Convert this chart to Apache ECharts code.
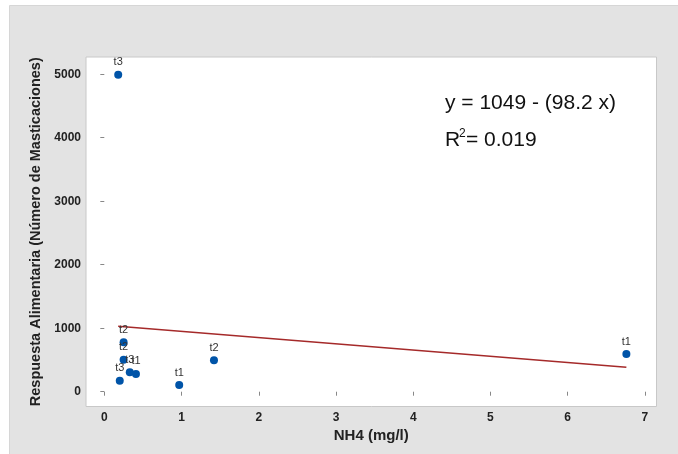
<!DOCTYPE html>
<html><head><meta charset="utf-8">
<script src="https://cdn.jsdelivr.net/npm/echarts@6/dist/echarts.min.js"></script>
<style>html,body{margin:0;padding:0;background:#fff}#c{width:678px;height:454px}</style>
</head><body><div id="c"></div>
<script>
const nh4 = [0.18, 0.25, 0.25, 0.33, 0.41, 0.20, 0.97, 1.42, 6.76];
const resp = [4990, 780, 505, 305, 280, 173, 105, 494, 594];
const tags = ['t3', 't2', 't2', 't3', 't1', 't3', 't1', 't2', 't1'];
const fitX = [0.18, 6.76];
const fitY = [1031, 385];
const xTicks = [0, 1, 2, 3, 4, 5, 6, 7];
const yTicks = [0, 1000, 2000, 3000, 4000, 5000];
const eqText = 'y = 1049 - (98.2 x)';
const r2Text = '= 0.019';

const chart = echarts.init(document.getElementById('c'), null, {renderer: 'canvas'});
const FF = '"Liberation Sans", Arial, sans-serif';
const tickFont = {fontFamily: 'Liberation Sans, Arial, sans-serif', fontSize: 12, fontWeight: 'bold', color: '#222'};
chart.setOption({
  animation: false,
  backgroundColor: '#ffffff',
  graphic: [
    {type: 'rect', left: 9, top: 5, z: -10, shape: {width: 669, height: 449}, style: {fill: '#e3e3e3', stroke: '#d6d6d6', lineWidth: 1}},
    {type: 'text', left: 445, top: 93, z: 10, style: {text: eqText, font: '21px ' + FF, fill: '#111'}},
    {type: 'text', left: 445, top: 130, z: 10, style: {text: 'R', font: '21px ' + FF, fill: '#111'}},
    {type: 'text', left: 459, top: 128, z: 10, style: {text: '2', font: '12px ' + FF, fill: '#111'}},
    {type: 'text', left: 466, top: 130, z: 10, style: {text: r2Text, font: '21px ' + FF, fill: '#111'}}
  ],
  grid: {left: 86, right: 21.5, top: 57, bottom: 47.5, show: true, backgroundColor: '#fff', borderColor: '#c8c8c8', borderWidth: 1},
  xAxis: {
    type: 'value', min: -0.237, max: 7.15,
    name: 'NH4 (mg/l)', nameLocation: 'middle', nameGap: 21,
    nameTextStyle: {fontFamily: 'Liberation Sans, Arial, sans-serif', fontSize: 15, fontWeight: 'bold', color: '#222'},
    axisLine: {show: false},
    splitLine: {show: false},
    axisTick: {show: true, length: 4, lineStyle: {color: '#888'}, customValues: xTicks},
    axisLabel: Object.assign({customValues: xTicks, margin: 5, formatter: v => String(v)}, tickFont)
  },
  yAxis: {
    type: 'value', min: -233, max: 5271,
    name: 'Respuesta Alimentaria (Número de Masticaciones)', nameLocation: 'middle', nameGap: 40, nameRotate: 90,
    nameTextStyle: {fontFamily: 'Liberation Sans, Arial, sans-serif', fontSize: 14.5, fontWeight: 'bold', color: '#222'},
    axisLine: {show: false},
    splitLine: {show: false},
    axisTick: {show: true, length: 4, lineStyle: {color: '#888'}, customValues: yTicks},
    axisLabel: Object.assign({customValues: yTicks, margin: 5, formatter: v => String(v)}, tickFont)
  },
  series: [
    {
      type: 'line', data: fitX.map((x, i) => [x, fitY[i]]), symbol: 'none',
      lineStyle: {color: '#a52a2a', width: 1.3}, z: 2
    },
    {
      type: 'scatter', symbolSize: 8, z: 3,
      itemStyle: {color: '#0054a8', opacity: 1},
      data: nh4.map((x, i) => ({value: [x, resp[i]], name: tags[i]})),
      label: {show: true, position: 'top', distance: 3, formatter: p => p.name,
        fontFamily: 'Liberation Sans, Arial, sans-serif', fontSize: 11, color: '#333'},
      labelLayout: {hideOverlap: false}
    }
  ]
});
</script></body></html>
